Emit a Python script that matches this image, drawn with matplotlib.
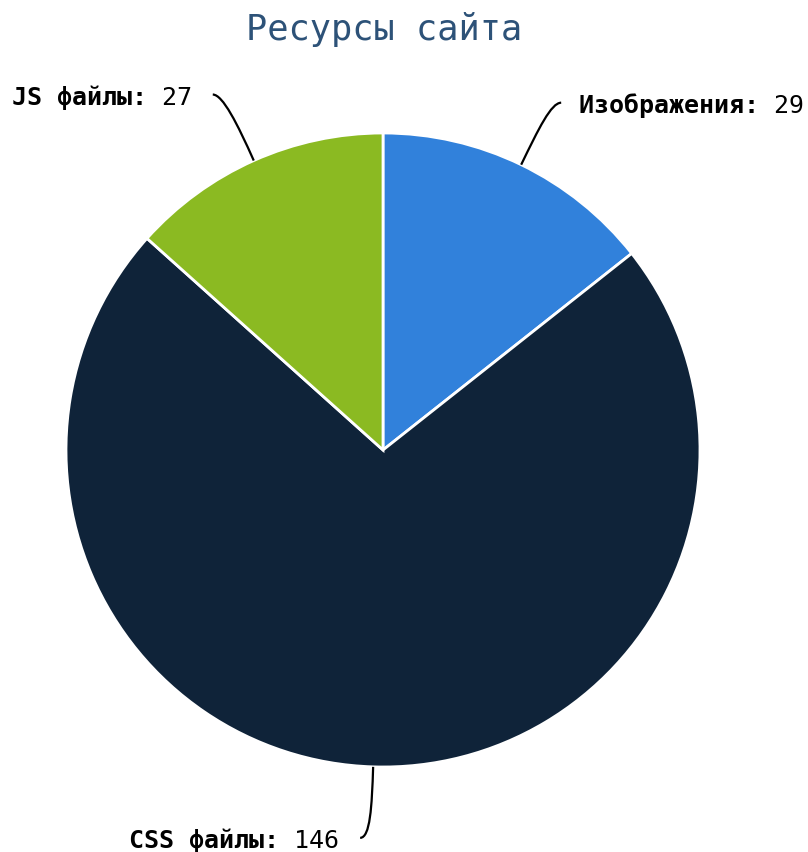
import numpy as np
import matplotlib
matplotlib.use('Agg')
import matplotlib.pyplot as plt
from matplotlib.path import Path
from matplotlib.patches import PathPatch

labels = ['Изображения', 'CSS файлы', 'JS файлы']
values = [29, 146, 27]
colors = ['#3181db', '#0f2339', '#8bba22']
title = 'Ресурсы сайта'

W, H = 808, 852
cx, cy, r = 383, H - 450, 317
# leader end offsets (px) from the wedge edge point, and text side
ends = [(40, 62, 'left'), (-13, -71, 'right'), (-41, 66, 'right')]

plt.rcParams['font.family'] = ['DejaVu Sans Mono']
fig = plt.figure(figsize=(W / 100, H / 100), dpi=100)
ax = fig.add_axes([0, 0, 1, 1])

wedges, _ = ax.pie(values, colors=colors, startangle=90, counterclock=False,
                   center=(cx, cy), radius=r, frame=True,
                   wedgeprops=dict(edgecolor='white', linewidth=2))
ax.set_xlim(0, W)
ax.set_ylim(0, H)
ax.set_aspect('equal')
ax.axis('off')

ax.text(cx + 1, H - 40, title, ha='center', va='baseline', fontsize=25.5,
        color='#2d5278')

fs = 18
for w, lab, val, (dx, dy, side) in zip(wedges, labels, values, ends):
    ang = np.deg2rad((w.theta1 + w.theta2) / 2)
    ux, uy = np.cos(ang), np.sin(ang)
    x0, y0 = cx + r * ux, cy + r * uy
    x3, y3 = x0 + dx, y0 + dy
    s = 1 if side == 'left' else -1
    verts = [(x0, y0), (x0 + ux * 40, y0 + uy * 40), (x3 - s * 10, y3), (x3, y3)]
    path = Path(verts, [Path.MOVETO, Path.CURVE4, Path.CURVE4, Path.CURVE4])
    ax.add_patch(PathPatch(path, fc='none', ec='black', lw=1.6))
    tx = x3 + s * (18 if side == 'left' else 21)
    ty = y3 - 10
    v = str(val)
    ha = 'left' if side == 'left' else 'right'
    bold_s = lab + ':' + ' ' * (1 + len(v))
    norm_s = ' ' * (len(lab) + 2) + v
    ax.text(tx, ty, bold_s, ha=ha, va='baseline', fontsize=fs, fontweight='bold')
    ax.text(tx, ty, norm_s, ha=ha, va='baseline', fontsize=fs)

fig.savefig('out.png', dpi=100)
